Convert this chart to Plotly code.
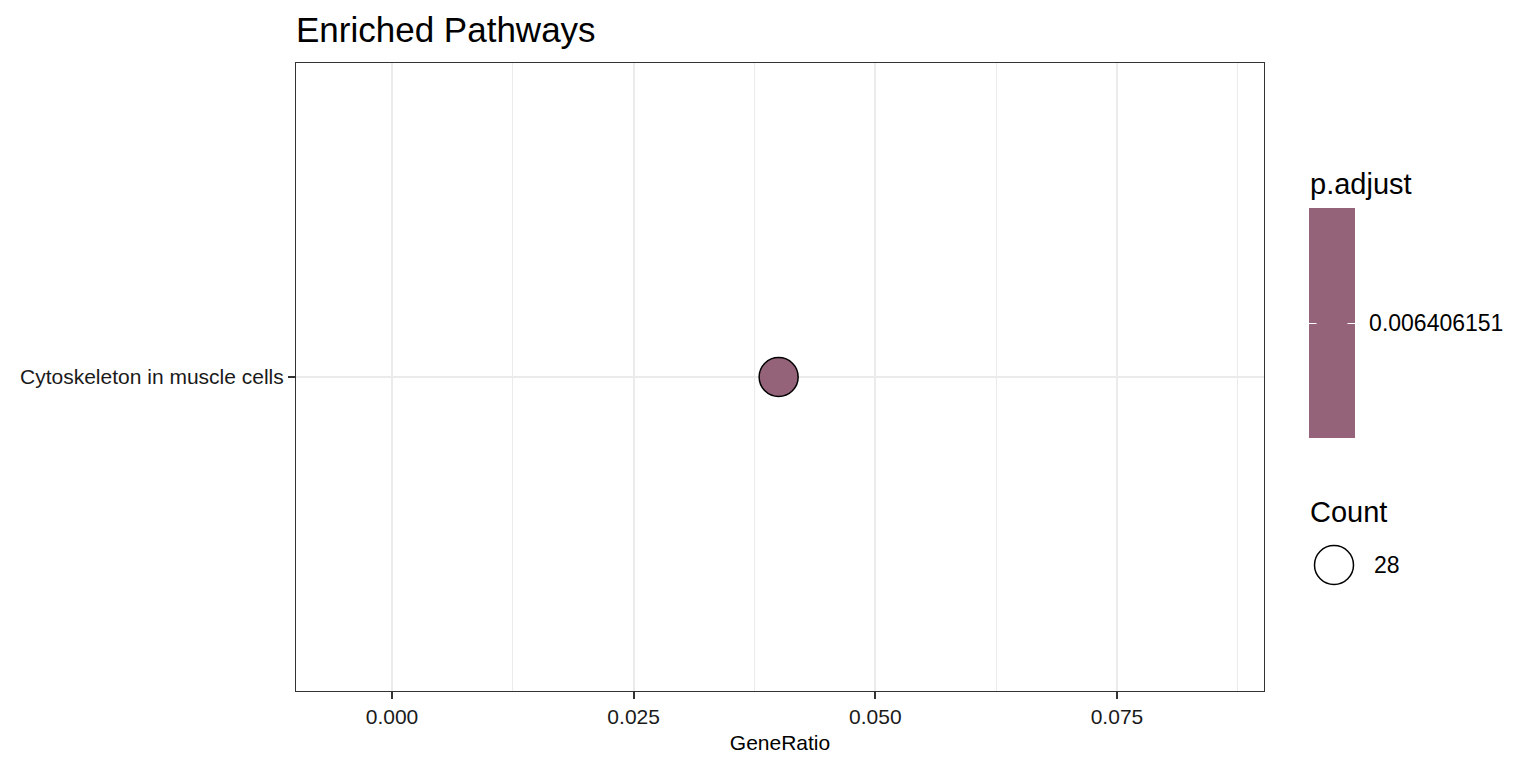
import plotly.graph_objects as go

# ---- data ----
pathways = ["Cytoskeleton in muscle cells"]
gene_ratio = [0.04]
p_adjust = [0.006406151]
counts = [28]

x_ticks = [0.0, 0.025, 0.05, 0.075]
x_tick_text = ["0.000", "0.025", "0.050", "0.075"]

FONT = "Arial, Liberation Sans, Helvetica, sans-serif"
FILL = "#946279"

OFF = 8  # page body margin
W, H = 1536, 768
ML, MT = 296 - OFF, 63 - OFF
pw, ph = 968, 628
MR = W - ML - pw
MB = H - MT - ph


def px_x(px):
    return (px - OFF - ML) / pw


def px_y(py):
    return (MT + ph - (py - OFF)) / ph


fig = go.Figure()

ypos = list(range(1, len(pathways) + 1))
pv = p_adjust[0]

fig.add_trace(go.Scatter(
    x=gene_ratio, y=ypos, mode="markers",
    marker=dict(
        size=39, color=p_adjust,
        colorscale=[[0, FILL], [1, FILL]],
        cmin=pv * 0.9, cmax=pv * 1.1,
        line=dict(color="black", width=1.5),
        colorbar=dict(
            thickness=46, thicknessmode="pixels",
            len=230, lenmode="pixels",
            x=px_x(1309), xanchor="left", xref="paper",
            y=px_y(323), yanchor="middle", yref="paper",
            xpad=0, ypad=0,
            outlinewidth=0,
            ticks="outside", ticklen=10, tickcolor="rgba(255,255,255,0)", tickwidth=1,
            tickvals=p_adjust, ticktext=["%.9f" % v for v in p_adjust],
            tickfont=dict(family=FONT, size=23, color="black"),
        ),
    ),
    showlegend=False,
    hoverinfo="skip",
))

# Count legend key (manual)
shapes = [
    dict(type="circle", xref="paper", yref="paper",
         xsizemode="pixel", ysizemode="pixel",
         xanchor=px_x(1334), yanchor=px_y(565),
         x0=-19.5, x1=19.5, y0=-19.5, y1=19.5,
         line=dict(color="black", width=1.5), fillcolor="white", layer="above"),
]

annotations = [
    dict(text="p.adjust", xref="paper", yref="paper", x=px_x(1308), y=px_y(184),
         xanchor="left", yanchor="middle", showarrow=False,
         font=dict(family=FONT, size=29, color="black")),
    dict(text="Count", xref="paper", yref="paper", x=px_x(1308), y=px_y(512),
         xanchor="left", yanchor="middle", showarrow=False,
         font=dict(family=FONT, size=29, color="black")),
    dict(text=str(counts[0]), xref="paper", yref="paper", x=px_x(1372), y=px_y(565),
         xanchor="left", yanchor="middle", showarrow=False,
         font=dict(family=FONT, size=23, color="black")),
    # white colorbar ticks on both edges
    dict(text="", xref="paper", yref="paper", x=px_x(1309), y=px_y(323.5),
         showarrow=True, arrowhead=0, arrowwidth=1, arrowcolor="white",
         ax=9, ay=0, standoff=0, startstandoff=0),
    dict(text="", xref="paper", yref="paper", x=px_x(1355), y=px_y(323.5),
         showarrow=True, arrowhead=0, arrowwidth=1, arrowcolor="white",
         ax=-9, ay=0, standoff=0, startstandoff=0),
]

fig.update_layout(
    width=W, height=H,
    margin=dict(l=ML, r=MR, t=MT, b=MB),
    paper_bgcolor="white", plot_bgcolor="white",
    font=dict(family=FONT, color="black"),
    title=dict(text="Enriched Pathways", x=px_x(296), xref="paper", xanchor="left",
               y=1 - (30 - OFF) / H, yref="container", yanchor="middle",
               font=dict(family=FONT, size=35, color="black")),
    shapes=shapes,
    annotations=annotations,
    xaxis=dict(
        range=[-0.00993, 0.09021],
        tickvals=x_ticks, ticktext=x_tick_text,
        showgrid=True, gridcolor="#EBEBEB", gridwidth=2,
        minor=dict(dtick=0.0125, tick0=0, showgrid=True, gridcolor="#EBEBEB", gridwidth=1),
        ticks="outside", ticklen=7, tickwidth=2, tickcolor="#333333",
        tickfont=dict(family=FONT, size=21, color="#1a1a1a"),
        showline=True, linecolor="#333333", linewidth=1, mirror=True,
        zeroline=False,
        title=dict(text="GeneRatio", font=dict(family=FONT, size=21, color="black"), standoff=8),
    ),
    yaxis=dict(
        range=[0.4, len(pathways) + 0.6],
        tickvals=ypos, ticktext=pathways,
        showgrid=True, gridcolor="#EBEBEB", gridwidth=2,
        ticks="outside", ticklen=7, tickwidth=2, tickcolor="#333333",
        tickfont=dict(family=FONT, size=21, color="#1a1a1a"),
        showline=True, linecolor="#333333", linewidth=1, mirror=True,
        zeroline=False,
    ),
)

fig.write_html("out.html")
